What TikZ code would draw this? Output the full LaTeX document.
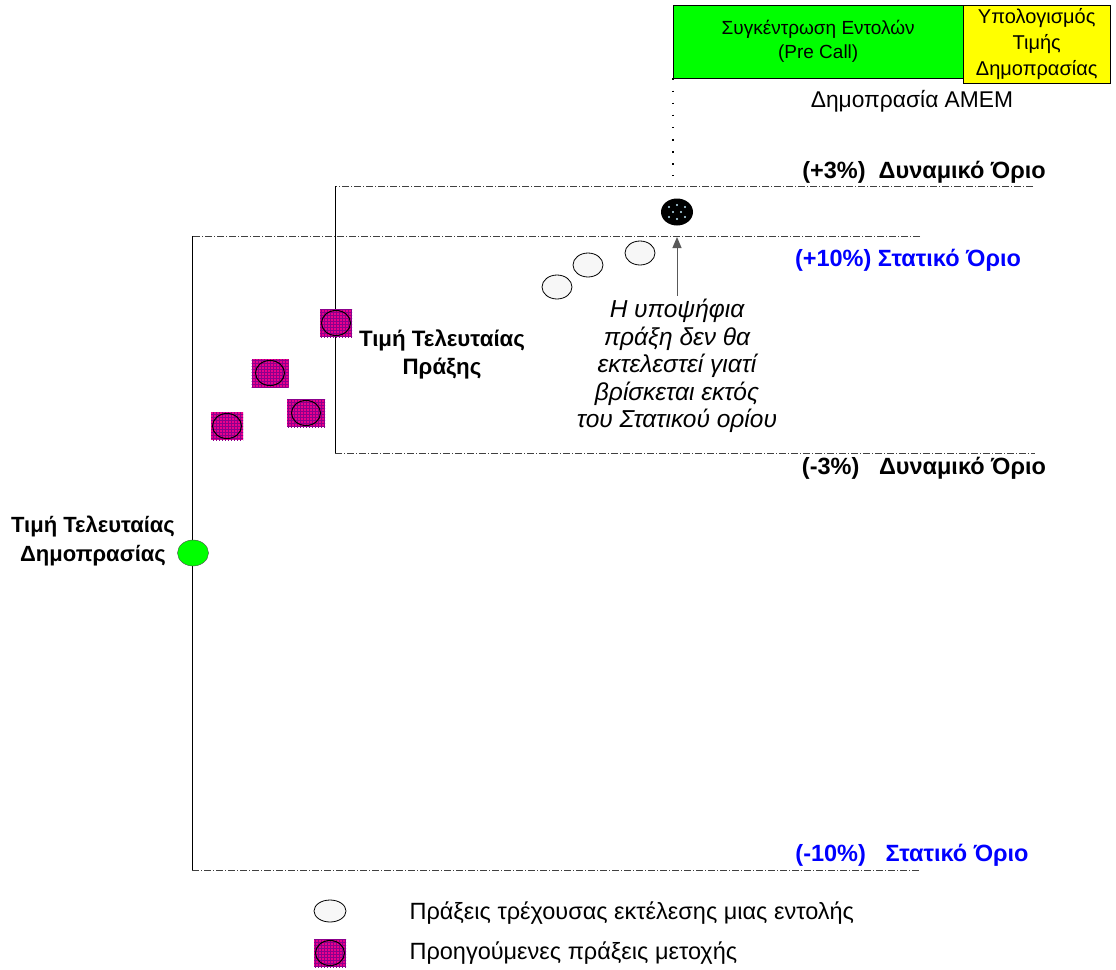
\documentclass[tikz,border=0pt]{standalone}
\usepackage{fontspec}
\setmainfont{Liberation Sans}
\usetikzlibrary{shapes.geometric,patterns,arrows.meta}
\definecolor{blau}{RGB}{0,0,255}
\definecolor{gruen}{RGB}{0,255,0}
\definecolor{gelb}{RGB}{255,255,0}
\tikzset{
  grenze/.style={dash pattern=on 7pt off 2pt on 1pt off 2pt, line width=0.8pt, black!75},
  rahmen/.style={line width=0.9pt},
  txt/.style={font=\fontsize{23.5}{28}\selectfont},
  fett/.style={font=\bfseries\fontsize{23.5}{28}\selectfont, align=center},
  aktuell/.style={ellipse, draw, line width=0.8pt, fill=black!3, minimum width=30pt, minimum height=24pt, inner sep=0pt},
  frueher/.style={rectangle, fill=magenta, minimum width=34pt, minimum height=28pt, inner sep=0pt,
    path picture={
      \fill[pattern=grid, pattern color=magenta!55!black] (path picture bounding box.south west) rectangle (path picture bounding box.north east);
      \draw[line width=1pt] (path picture bounding box.center) ellipse (14.5pt and 12.5pt);}},
}
\begin{document}
\begin{tikzpicture}[x=1pt,y=-1pt]
	\useasboundingbox (0,0) rectangle (1116,969);
	% Phasen
	\node[draw, fill=gruen, minimum width=290pt, minimum height=73pt, anchor=north west,
		align=center, font=\fontsize{19}{24}\selectfont] (pre) at (673,5) {Συγκέντρωση Εντολών\\(Pre Call)};
	\node[draw, fill=gelb, minimum width=147pt, minimum height=73pt, anchor=north west,
		align=center, font=\fontsize{20}{26}\selectfont] (calc) at (963,5) {Υπολογισμός\\Τιμής\\Δημοπρασίας};
	\node[txt, font=\fontsize{22.8}{28}\selectfont] (amem) at (912,101) {Δημοπρασία ΑΜΕΜ};
	\coordinate (dotend) at (673,176);
	\draw[dash pattern=on 1.6pt off 10.5pt, line width=1.6pt] (pre.south west) -- (dotend);
	% Dynamische Grenzen
	\draw[grenze] (1033,186) -- (335,186);
	\draw[rahmen] (335,186) -- (335,453);
	\draw[grenze] (335,453) -- (1035,453);
	\node[fett] (plus3) at (924,172) {(+3\%)\ \ Δυναμικό Όριο};
	\node[fett] (minus3) at (924,468) {(-3\%)\ \ \ Δυναμικό Όριο};
	% Statische Grenzen
	\draw[grenze] (920,236) -- (192,236);
	\draw[rahmen] (192,236) -- (192,870);
	\draw[grenze] (192,870) -- (920,870);
	\node[fett, blau] (plus10) at (908,260) {(+10\%) Στατικό Όριο};
	\node[fett, blau] (minus10) at (912,855) {(-10\%)\ \ \ Στατικό Όριο};
	% Praxeis
	\node[aktuell] (c1) at (557,287) {};
	\node[aktuell] (c2) at (588,265) {};
	\node[aktuell] (c3) at (640,253) {};
	\node[frueher, minimum width=32pt] (p1) at (336,323) {};
	\node[frueher, minimum width=37pt] (p2) at (270,373) {};
	\node[frueher, minimum width=38pt] (p3) at (306,413) {};
	\node[frueher, minimum width=32pt] (p4) at (227,426) {};
	\node[ellipse, draw=black!70, fill=gruen, minimum width=31pt, minimum height=26pt, inner sep=0pt] (auction) at (193,553) {};
	\node[ellipse, fill=black, minimum width=32pt, minimum height=27pt, inner sep=0pt] (kandidat) at (677,212) {};
	\foreach \dx/\dy in {-8/-5,0/-7,8/-5,-4/0,4/0,-8/5,0/7,8/5}
		\fill[cyan!25] ([shift={(\dx,\dy)}]kandidat.center) circle (1.1pt);
	% Beschriftung
	\node[fett, font=\bfseries\fontsize{22.3}{28}\selectfont] (lastpr) at (442,354) {Τιμή Τελευταίας\\Πράξης};
	\node[fett, font=\bfseries\fontsize{22}{29}\selectfont] (lastauc) at (93,541) {Τιμή Τελευταίας\\Δημοπρασίας};
	\node[align=center, font=\itshape\fontsize{24.5}{27.5}\selectfont] (erkl) at (677,366)
		{Η υποψήφια\\πράξη δεν θα\\εκτελεστεί γιατί\\βρίσκεται εκτός\\του Στατικού ορίου};
	\coordinate (tip) at (677,237);
	\draw[-{Triangle[length=11pt,width=9pt]}, black!65, line width=1pt] (erkl.north) -- (tip);
	% Legende
	\node[aktuell, minimum width=32pt, minimum height=22pt] (l1) at (330,911) {};
	\node[frueher, minimum width=32pt] (l2) at (330,953) {};
	\node[txt, anchor=west] (l1t) at (406,913) {Πράξεις τρέχουσας εκτέλεσης μιας εντολής};
	\node[txt, anchor=west] (l2t) at (406,953) {Προηγούμενες πράξεις μετοχής};
\end{tikzpicture}
\end{document}
